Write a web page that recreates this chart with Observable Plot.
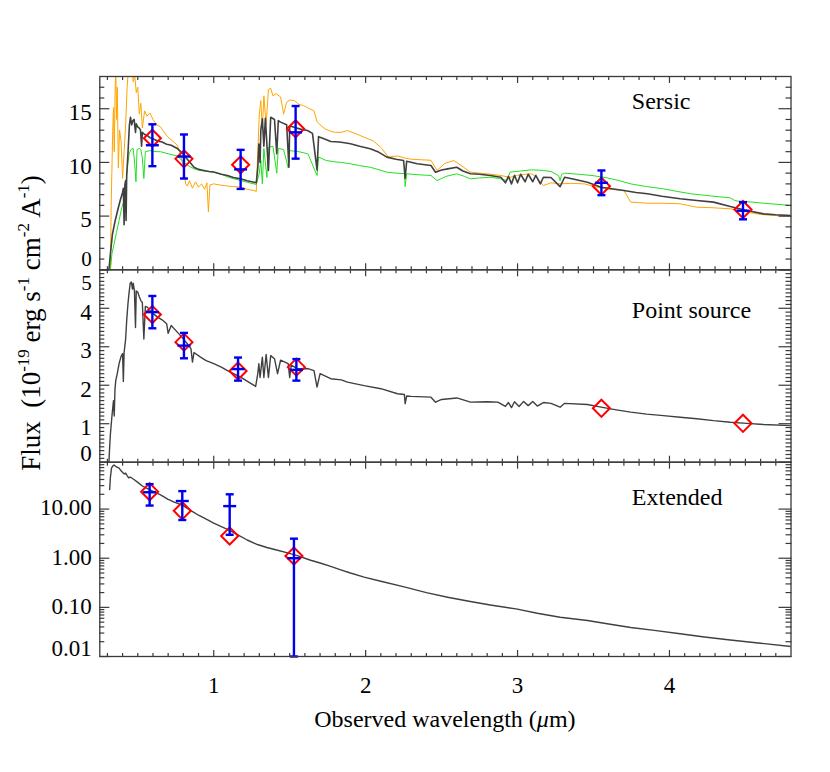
<!DOCTYPE html>
<html><head><meta charset="utf-8">
<script src="https://cdn.jsdelivr.net/npm/d3@7"></script>
<script src="https://cdn.jsdelivr.net/npm/@observablehq/plot@0.6"></script>
<style>
body{margin:0;background:#fff;}
#chart{position:relative;width:830px;height:772px;}
#chart svg{position:absolute;left:0;top:0;}
</style></head><body><div id="chart"></div>
<script>
// ---------------- DATA ----------------
// Panel 1 "Sersic": best model (dark), alternative models (orange, green)
const sersicDark = [[0.31,0],[0.32,1.5],[0.333,3.3],[0.35,4.5],[0.367,5.5],[0.385,6.5],[0.40,7.2],[0.405,7.6],[0.41,4.2],[0.415,7.9],[0.42,8.3],[0.423,4.6],[0.427,8.8],[0.43,9.5],[0.436,11.0],[0.445,13.5],[0.452,14.2],[0.46,13.5],[0.468,13.9],[0.476,14.0],[0.485,12.8],[0.49,13.6],[0.50,13.3],[0.51,13.2],[0.518,13.0],[0.525,11.5],[0.53,12.8],[0.545,12.6],[0.563,12.5],[0.58,12.3],[0.60,12.2],[0.63,12.0],[0.66,11.9],[0.69,11.7],[0.72,11.6],[0.76,11.3],[0.79,10.9],[0.81,10.6],[0.826,10.3],[0.85,9.9],[0.87,9.55],[0.90,9.35],[0.935,9.25],[0.97,9.15],[1.0,9.1],[1.05,8.9],[1.09,8.78],[1.13,8.6],[1.177,8.47],[1.22,8.3],[1.265,8.16],[1.28,8.1],[1.29,9.5],[1.297,11.7],[1.305,10.0],[1.31,13.0],[1.32,14.06],[1.33,11.5],[1.34,14.1],[1.36,9.25],[1.375,14.2],[1.40,14.0],[1.415,10.8],[1.425,13.9],[1.44,13.75],[1.48,13.5],[1.495,9.55],[1.50,13.4],[1.53,13.28],[1.57,13.1],[1.617,12.97],[1.65,12.7],[1.68,9.3],[1.69,12.4],[1.726,12.2],[1.77,11.95],[1.825,11.9],[1.85,11.85],[1.90,11.73],[1.96,11.5],[2.03,11.27],[2.08,11.0],[2.14,10.49],[2.20,10.3],[2.25,10.18],[2.26,8.5],[2.27,10.1],[2.34,9.87],[2.43,9.71],[2.46,9.09],[2.50,9.3],[2.54,9.40],[2.60,9.55],[2.64,9.2],[2.69,8.94],[2.75,8.9],[2.82,8.78],[2.89,8.62],[2.92,8.1],[2.94,8.7],[2.96,8.0],[2.98,8.8],[3.00,8.1],[3.02,8.9],[3.05,8.2],[3.07,8.9],[3.10,8.2],[3.12,8.8],[3.15,8.0],[3.17,8.62],[3.22,8.6],[3.28,7.75],[3.31,8.62],[3.38,8.4],[3.46,8.16],[3.55,7.69],[3.62,7.55],[3.70,7.38],[3.78,7.2],[3.855,7.08],[3.95,6.85],[4.07,6.61],[4.18,6.45],[4.29,6.30],[4.40,5.89],[4.51,5.52],[4.62,5.21],[4.70,5.12],[4.80,5.06]];
const sersicOrange = [[0.32,0],[0.325,6],[0.335,13],[0.34,15.1],[0.345,11],[0.35,16],[0.355,19],[0.36,14],[0.365,17],[0.372,9.5],[0.38,13],[0.39,12],[0.40,8.5],[0.41,11],[0.42,13.5],[0.43,17],[0.44,19],[0.45,18.5],[0.46,19],[0.47,17.5],[0.48,18.2],[0.49,16.5],[0.50,17.0],[0.51,14.5],[0.52,15.5],[0.53,13.2],[0.545,14.8],[0.56,14.3],[0.58,14.6],[0.60,14.0],[0.625,13.5],[0.65,13.3],[0.695,12.4],[0.73,12.0],[0.76,11.6],[0.785,10.5],[0.805,9.25],[0.815,8.0],[0.826,7.8],[0.84,8.3],[0.86,7.6],[0.88,8.2],[0.90,7.7],[0.92,8.0],[0.94,7.5],[0.955,8.1],[0.965,5.4],[0.975,7.9],[1.0,8.0],[1.04,7.9],[1.09,7.8],[1.13,7.75],[1.177,7.7],[1.22,7.5],[1.265,7.38],[1.28,7.3],[1.29,11],[1.30,14.5],[1.31,15.76],[1.32,13],[1.33,16.2],[1.345,13.5],[1.36,16.8],[1.375,16.9],[1.39,16.2],[1.41,16.4],[1.44,16.1],[1.46,14.5],[1.48,15.6],[1.50,15.8],[1.53,15.76],[1.56,15.4],[1.59,15.3],[1.617,15.1],[1.66,14.8],[1.68,13.8],[1.70,13.5],[1.735,13.1],[1.77,12.9],[1.80,12.8],[1.84,12.8],[1.88,12.97],[1.93,12.7],[1.99,12.35],[2.05,12.0],[2.10,11.4],[2.15,10.5],[2.21,10.6],[2.26,10.4],[2.30,10.3],[2.36,10.25],[2.43,10.2],[2.47,9.25],[2.52,9.9],[2.58,10.18],[2.63,9.7],[2.69,9.09],[2.75,9.0],[2.80,8.94],[2.89,8.78],[2.95,8.6],[3.00,8.8],[3.05,8.9],[3.09,8.94],[3.12,8.7],[3.17,7.85],[3.22,8.1],[3.28,8.0],[3.35,8.05],[3.44,8.0],[3.52,7.7],[3.59,7.54],[3.65,7.45],[3.70,7.38],[3.72,6.9],[3.745,6.3],[3.80,6.25],[3.86,6.2],[3.95,6.2],[4.07,6.15],[4.12,6.0],[4.18,5.83],[4.28,5.78],[4.40,5.68],[4.45,5.55],[4.52,5.35],[4.60,5.15],[4.70,5.05],[4.80,4.96]];
const sersicGreen = [[0.32,0],[0.33,1.5],[0.344,2.4],[0.36,3.5],[0.377,4.6],[0.395,5.8],[0.41,6.45],[0.42,7.5],[0.428,8.9],[0.435,9.9],[0.443,10.8],[0.455,11.2],[0.47,11.3],[0.48,9.8],[0.488,8.2],[0.495,11.2],[0.51,11.3],[0.52,11.2],[0.53,10.4],[0.54,8.5],[0.55,11.0],[0.58,11.1],[0.62,11.0],[0.65,11.0],[0.70,10.8],[0.76,10.6],[0.79,10.2],[0.83,9.71],[0.87,9.4],[0.91,9.25],[0.96,9.15],[1.0,9.1],[1.05,8.9],[1.10,8.6],[1.177,8.31],[1.22,8.15],[1.265,8.0],[1.28,7.95],[1.30,9.0],[1.31,10.18],[1.32,8.0],[1.33,11.3],[1.35,8.6],[1.36,11.4],[1.39,11.5],[1.415,9.0],[1.425,11.3],[1.46,11.2],[1.49,9.5],[1.50,11.1],[1.56,11.0],[1.62,10.8],[1.68,8.78],[1.69,10.5],[1.74,10.18],[1.80,10.05],[1.84,10.0],[1.90,9.87],[1.96,9.7],[2.03,9.55],[2.08,9.35],[2.14,9.09],[2.20,9.0],[2.255,8.95],[2.26,7.75],[2.27,8.94],[2.35,8.85],[2.43,8.78],[2.47,8.31],[2.53,8.7],[2.60,8.94],[2.65,8.7],[2.69,8.47],[2.75,8.55],[2.82,8.62],[2.88,8.5],[2.93,8.31],[2.95,9.09],[3.02,9.2],[3.09,9.31],[3.17,9.25],[3.22,9.15],[3.27,8.78],[3.28,8.3],[3.29,8.9],[3.31,9.0],[3.40,8.9],[3.49,8.78],[3.59,8.56],[3.67,8.3],[3.745,8.0],[3.85,7.75],[3.96,7.54],[4.05,7.3],[4.14,7.08],[4.27,6.88],[4.40,6.70],[4.43,6.45],[4.45,6.4],[4.55,6.3],[4.62,6.2],[4.80,5.99]];
// Panel 2 "Point source" model
const pointModel = [[0.31,0],[0.315,0.4],[0.32,0.74],[0.33,1.2],[0.34,1.6],[0.345,1.2],[0.35,1.9],[0.355,2.12],[0.365,2.3],[0.377,2.56],[0.39,2.75],[0.40,2.82],[0.405,2.1],[0.41,2.85],[0.42,3.2],[0.427,3.68],[0.435,4.1],[0.442,4.38],[0.45,4.65],[0.458,4.68],[0.465,4.5],[0.47,4.65],[0.478,4.46],[0.485,3.5],[0.49,4.45],[0.50,4.42],[0.51,4.3],[0.52,4.2],[0.53,4.15],[0.54,3.2],[0.55,4.05],[0.563,4.03],[0.59,3.9],[0.63,3.77],[0.66,3.7],[0.69,3.6],[0.70,3.35],[0.72,3.55],[0.76,3.38],[0.79,3.25],[0.826,3.08],[0.85,2.95],[0.86,2.6],[0.87,2.85],[0.913,2.73],[0.95,2.64],[1.0,2.56],[1.05,2.47],[1.09,2.38],[1.13,2.3],[1.177,2.21],[1.23,2.08],[1.276,1.97],[1.29,2.3],[1.297,2.56],[1.305,2.2],[1.32,2.73],[1.33,2.2],[1.345,2.8],[1.36,2.2],[1.375,2.77],[1.40,2.69],[1.42,2.3],[1.44,2.65],[1.49,2.56],[1.50,2.2],[1.51,2.52],[1.55,2.43],[1.62,2.43],[1.66,2.38],[1.68,1.95],[1.70,2.30],[1.77,2.17],[1.84,2.14],[1.88,2.08],[1.99,1.99],[2.10,1.91],[2.21,1.78],[2.255,1.76],[2.26,1.52],[2.27,1.72],[2.30,1.71],[2.43,1.69],[2.46,1.56],[2.50,1.63],[2.60,1.67],[2.69,1.56],[2.80,1.57],[2.87,1.56],[2.92,1.45],[2.94,1.55],[2.96,1.42],[2.98,1.57],[3.01,1.45],[3.04,1.58],[3.07,1.47],[3.10,1.58],[3.13,1.46],[3.17,1.55],[3.22,1.53],[3.28,1.43],[3.31,1.53],[3.46,1.50],[3.55,1.43],[3.65,1.36],[3.745,1.30],[3.85,1.25],[3.96,1.21],[4.07,1.17],[4.18,1.13],[4.29,1.08],[4.40,1.04],[4.51,1.01],[4.62,0.98],[4.80,0.95]];
// Panel 3 "Extended" model (log axis)
const extendedModel = [[0.315,25],[0.32,45],[0.327,68],[0.335,75],[0.344,79],[0.36,72],[0.377,68],[0.39,60],[0.41,52],[0.42,54],[0.43,48],[0.44,43],[0.45,45],[0.475,40],[0.50,35],[0.53,29.5],[0.58,24.5],[0.65,19.5],[0.70,15.8],[0.74,13.8],[0.793,12.0],[0.85,9.3],[0.90,7.5],[0.96,6.0],[1.0,5.2],[1.05,4.4],[1.105,3.7],[1.15,3.1],[1.22,2.35],[1.287,1.9],[1.35,1.65],[1.42,1.45],[1.48,1.3],[1.55,1.13],[1.638,0.91],[1.70,0.8],[1.77,0.68],[1.836,0.58],[1.90,0.5],[1.99,0.413],[2.10,0.34],[2.26,0.258],[2.40,0.2],[2.54,0.161],[2.68,0.133],[2.82,0.112],[2.99,0.093],[3.13,0.076],[3.28,0.063],[3.46,0.054],[3.60,0.046],[3.745,0.039],[3.90,0.034],[4.07,0.029],[4.23,0.025],[4.40,0.0216],[4.60,0.0186],[4.80,0.016]];

// Photometry: wavelength, model flux (red diamonds), observed flux and 1-sigma error (blue)
const sersicWave  = [0.596, 0.804, 1.177, 1.539, 3.552, 4.484];
const sersicModelPts = [12.25, 10.33, 9.78, 13.13, 7.78, 5.61];
const sersicObs   = [11.6, 10.55, 9.35, 12.8, 8.1, 5.5];
const sersicErr   = [1.95, 2.05, 1.82, 2.45, 1.15, 0.8];

const pointWave   = [0.596, 0.804, 1.16, 1.544, 3.552, 4.484];
const pointModelPts = [3.84, 3.12, 2.37, 2.47, 1.40, 1.01];
const pointObsWave = [0.596, 0.804, 1.16, 1.544];
const pointObs    = [3.9, 3.03, 2.42, 2.4];
const pointErr    = [0.42, 0.33, 0.30, 0.28];

const extWave     = [0.578, 0.793, 1.105, 1.528];
const extModelPts = [22.6, 9.23, 2.84, 1.11];
const extObs      = [22.0, 14.6, 11.5, 1.0];
const extErr      = [10.2, 8.6, 8.5, 1.5];

// Axis ticks and labels
const xMajor = [1, 2, 3, 4];
const yTop = [0, 5, 10, 15];
const yMid = [0, 1, 2, 3, 4, 5];
const yLog = [0.01, 0.1, 1, 10];
const panelNames = ["Sersic", "Point source", "Extended"];

// ---------------- LAYOUT ----------------
const W = 830, H = 772, FL = 99.3, FR = 790.5;
const F = [76, 269.3, 461.7, 656];
const FONT = "'Liberation Serif','Times New Roman',Times,serif";
const AX = "#3a3a3a";
const TICKFONT = 23;
const xMinor = d3.range(3, 48).map(i => i / 10).filter(v => !xMajor.includes(v));
const hline = {draw(ctx, size) { const r = Math.sqrt(size / Math.PI); ctx.moveTo(-r, 0); ctx.lineTo(r, 0); }};

function axes(yMajor, yMinor, labelGroups, showX) {
  const m = [];
  const tk = {fill: "none", label: null, stroke: AX, strokeWidth: 1.2};
  m.push(Plot.axisY({anchor: "left", ticks: yMajor, tickSize: -10, ...tk}));
  m.push(Plot.axisY({anchor: "left", ticks: yMinor, tickSize: -5, ...tk}));
  m.push(Plot.axisY({anchor: "right", ticks: yMajor, tickSize: -13, ...tk}));
  m.push(Plot.axisY({anchor: "right", ticks: yMinor, tickSize: -6, ...tk}));
  m.push(Plot.axisX({anchor: "bottom", ticks: xMajor, tickSize: -6, ...tk}));
  m.push(Plot.axisX({anchor: "bottom", ticks: xMinor, tickSize: -3, ...tk}));
  m.push(Plot.axisX({anchor: "top", ticks: xMajor, tickSize: -6, ...tk}));
  m.push(Plot.axisX({anchor: "top", ticks: xMinor, tickSize: -3, ...tk}));
  for (const g of labelGroups) {
    m.push(Plot.axisY({anchor: "left", ticks: g.ticks, tickSize: 0, tickPadding: 8, dy: g.dy, tickFormat: g.fmt, label: null, fill: "black", fontSize: g.size || TICKFONT}));
  }
  if (showX) m.push(Plot.axisX({anchor: "bottom", ticks: xMajor, tickSize: 0, tickPadding: 20, tickFormat: d => String(d), label: null, fill: "black", fontSize: TICKFONT}));
  m.push(Plot.frame({stroke: AX, strokeWidth: 1.3}));
  return m;
}

function points(wave, model, owave, obs, err, lowClamp) {
  const idx = d3.range(owave.length);
  const lo = i => Math.max(obs[i] - err[i], lowClamp);
  const hi = i => obs[i] + err[i];
  return [
    Plot.dot(d3.range(wave.length), {x: i => wave[i], y: i => model[i], symbol: "diamond2", r: 7.7, stroke: "#ff0000", strokeWidth: 2, fill: "none"}),
    Plot.ruleX(idx, {x: i => owave[i], y1: lo, y2: hi, stroke: "#0000f0", strokeWidth: 2.4}),
    Plot.dot(idx, {x: i => owave[i], y: lo, symbol: hline, r: 4, stroke: "#0000f0", strokeWidth: 2.4, fill: "none"}),
    Plot.dot(idx, {x: i => owave[i], y: hi, symbol: hline, r: 4, stroke: "#0000f0", strokeWidth: 2.4, fill: "none"}),
    Plot.dot(idx, {x: i => owave[i], y: i => obs[i], symbol: hline, r: 6.5, stroke: "#0000f0", strokeWidth: 2.4, fill: "none"})
  ];
}

function spec(data, stroke, width) {
  return Plot.line(data, {x: d => d[0], y: d => d[1], stroke, strokeWidth: width, clip: true});
}

function panelLabel(name, dy) {
  return Plot.text([name], {text: d => d, frameAnchor: "top-left", dx: 532, dy, textAnchor: "start", lineAnchor: "middle", fontSize: 24, fill: "black"});
}

function base(i, y, marks) {
  return Plot.plot({
    width: W, height: H,
    marginLeft: FL, marginRight: W - FR, marginTop: F[i], marginBottom: H - F[i + 1],
    x: {domain: [0.25, 4.8]},
    y: {...y, label: null},
    style: {fontFamily: FONT, fontSize: "23px", background: "transparent", overflow: "visible", color: "black"},
    marks
  });
}

const fmtInt = d => String(d);
const p1 = base(0, {domain: [0, 18]}, [
  spec(sersicOrange, "#ffa500", 1),
  spec(sersicGreen, "#22e022", 1),
  spec(sersicDark, "#404040", 1.6),
  ...points(sersicWave, sersicModelPts, sersicWave, sersicObs, sersicErr, -Infinity),
  panelLabel(panelNames[0], 25),
  ...axes(yTop, d3.range(1, 18).filter(v => v % 5), [{ticks: [5, 10, 15], dy: 4, fmt: fmtInt}, {ticks: [0], dy: -10.5, fmt: fmtInt, size: 21}], false)
]);
const p2 = base(1, {domain: [0, 5]}, [
  spec(pointModel, "#404040", 1.4),
  ...points(pointWave, pointModelPts, pointObsWave, pointObs, pointErr, -Infinity),
  panelLabel(panelNames[1], 41),
  ...axes(yMid, d3.range(1, 50).filter(v => v % 10).map(v => v / 10), [{ticks: [1, 2, 3, 4], dy: 4, fmt: fmtInt}, {ticks: [5], dy: 13, fmt: fmtInt, size: 21}, {ticks: [0], dy: -8.5, fmt: fmtInt}], false)
]);
const logMinor = [];
for (const d of yLog) for (let k = 2; k <= 9; k++) if (d * k < 90) logMinor.push(d * k);
const p3 = base(2, {type: "log", domain: [0.01, 90]}, [
  spec(extendedModel, "#404040", 1.4),
  ...points(extWave, extModelPts, extWave, extObs, extErr, 0.01),
  panelLabel(panelNames[2], 35),
  ...axes(yLog, logMinor, [{ticks: [0.1, 1, 10], dy: -1, fmt: d => d.toFixed(2)}, {ticks: [0.01], dy: -8, fmt: d => d.toFixed(2)}], true)
]);

const chart = document.getElementById("chart");
chart.append(p1, p2, p3);

// Axis titles as real SVG text
const s = d3.select(p3);
const xl = s.append("text").attr("x", (FL + FR) / 2).attr("y", 727).attr("text-anchor", "middle")
  .style("font-family", FONT).style("font-size", "24px").attr("fill", "black");
xl.append("tspan").text("Observed wavelength (");
xl.append("tspan").style("font-style", "italic").text("\u03bc");
xl.append("tspan").text("m)");

const yl = s.append("text").attr("transform", "translate(40,323) rotate(-90)").attr("text-anchor", "middle")
  .style("font-family", FONT).style("font-size", "27px").style("white-space", "pre").attr("fill", "black");
const parts = [["Flux  (10", 0], ["-19", 1], [" erg s", 0], ["-1", 1], [" cm", 0], ["-2", 1], [" A", 0], ["-1", 1], [")", 0]];
let up = false;
for (const [t, sup] of parts) {
  const ts = yl.append("tspan").text(t);
  if (sup) { ts.attr("dy", -11).style("font-size", "17px"); up = true; }
  else if (up) { ts.attr("dy", 11); up = false; }
}
</script></body></html>
